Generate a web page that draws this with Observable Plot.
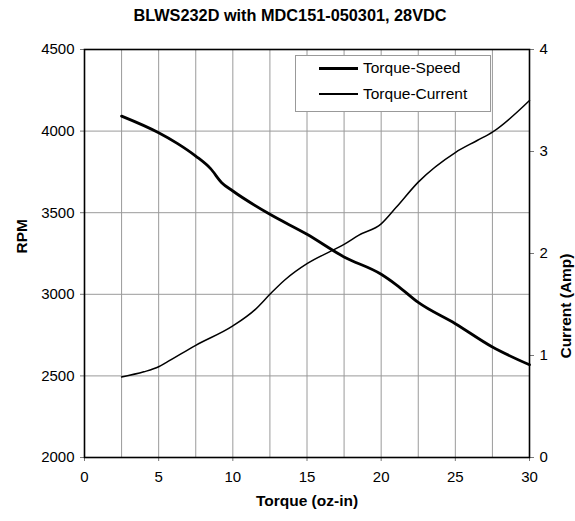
<!DOCTYPE html>
<html>
<head>
<meta charset="utf-8">
<script src="https://cdn.jsdelivr.net/npm/d3@7"></script>
<script src="https://cdn.jsdelivr.net/npm/@observablehq/plot@0.6"></script>
<style>
  body { margin: 0; background: white; font-family: "Liberation Sans", Arial, sans-serif; }
  #wrap { position: relative; width: 575px; height: 521px; }
  #title { height: 30px; line-height: 30px; text-align: center; font-weight: bold; font-size: 16.3px; padding-left: 5px; }
  #legend { position: absolute; left: 295px; top: 55px; width: 196px; height: 57px; background: white;
            border: 1px solid #999; box-sizing: border-box; font-size: 15.5px; }
  .row { position: absolute; left: 0; height: 20px; line-height: 20px; }
  .row span.sw { position: absolute; left: 23px; width: 39px; top: 10px; background: black; }
  .row span.lbl { position: absolute; left: 67px; white-space: nowrap; }
</style>
</head>
<body>
<div id="wrap">
  <div id="title"></div>
  <div id="chart"></div>
  <div id="legend"></div>
</div>
<script>
const titleText = "BLWS232D with MDC151-050301, 28VDC";
const xLabel = "Torque (oz-in)";
const yLabel = "RPM";
const y2Label = "Current (Amp)";
const seriesNames = ["Torque-Speed", "Torque-Current"];

const speedTorque = [2.5, 5, 6.25, 7.5, 8.5, 9.25, 10, 12.5, 15, 17.5, 20, 21, 22.5, 25, 27.5, 30];
const speedRpm    = [4092, 3990, 3925, 3847, 3770, 3684, 3633, 3490, 3368, 3229, 3123, 3060, 2950, 2820, 2677, 2568];

const currTorque = [2.5, 4, 5, 5.5, 7.5, 10, 11.5, 12.5, 13.5, 15, 16.7, 17.5, 18.5, 20, 21, 22.5, 25, 26.5, 27.5, 30];
const currAmp    = [0.79, 0.84, 0.89, 0.93, 1.10, 1.29, 1.45, 1.60, 1.74, 1.90, 2.03, 2.09, 2.18, 2.29, 2.45, 2.70, 2.99, 3.11, 3.19, 3.50];

const xTicks = [0, 5, 10, 15, 20, 25, 30];
const xGrid = [2.5, 5, 7.5, 10, 12.5, 15, 17.5, 20, 22.5, 25, 27.5];
const yTicks = [2000, 2500, 3000, 3500, 4000, 4500];
const yGrid = [2500, 3000, 3500, 4000];
const y2Ticks = [0, 1, 2, 3, 4];

// map current (0..4 A) onto the RPM scale (2000..4500)
const toRpm = a => 2000 + a * 625;

const speed = speedTorque.map((t, i) => ({t, v: speedRpm[i]}));
const current = currTorque.map((t, i) => ({t, v: currAmp[i]}));

document.getElementById("title").textContent = titleText;

const chart = Plot.plot({
  width: 575,
  height: 491,
  marginTop: 19,
  marginBottom: 64,
  marginLeft: 84,
  marginRight: 46,
  style: {fontFamily: "'Liberation Sans', Arial, sans-serif", fontSize: "15px", color: "black", background: "white", overflow: "visible"},
  x: {domain: [0, 30]},
  y: {domain: [2000, 4500]},
  marks: [
    Plot.gridX(xGrid, {stroke: "#9a9a9a", strokeOpacity: 1, strokeWidth: 1}),
    Plot.gridY(yGrid, {stroke: "#9a9a9a", strokeOpacity: 1, strokeWidth: 1}),
    Plot.axisX(xTicks, {tickSize: 4, tickPadding: 10, label: null, stroke: "#777", fontSize: 15}),
    Plot.axisY(yTicks, {tickSize: 4, tickPadding: 6, label: null, stroke: "#777", fontSize: 15, tickFormat: d => String(d)}),
    Plot.axisY(y2Ticks.map(toRpm), {anchor: "right", tickSize: 4, tickPadding: 6, label: null, stroke: "#777", fontSize: 15,
      tickFormat: d => String(Math.round((d - 2000) / 625))}),
    Plot.frame({stroke: "black", strokeWidth: 1.6}),
    Plot.line(speed, {x: "t", y: "v", stroke: "black", strokeWidth: 2.8, curve: "monotone-x"}),
    Plot.line(current, {x: "t", y: d => toRpm(d.v), stroke: "black", strokeWidth: 1.5, curve: "monotone-x"}),
    Plot.text([xLabel], {frameAnchor: "bottom", dy: 48, fontWeight: "bold", fontSize: 15.5}),
    Plot.text([yLabel], {frameAnchor: "left", dx: -62, rotate: -90, fontWeight: "bold", fontSize: 15.5}),
    Plot.text([y2Label], {frameAnchor: "right", dx: 37, rotate: -90, fontWeight: "bold", fontSize: 15.5})
  ]
});
document.getElementById("chart").appendChild(chart);

const legend = document.getElementById("legend");
const widths = [3, 1.5];
const tops = [2, 28];
seriesNames.forEach((name, i) => {
  const row = document.createElement("div");
  row.className = "row";
  row.style.top = tops[i] + "px";
  const sw = document.createElement("span");
  sw.className = "sw";
  sw.style.height = widths[i] + "px";
  sw.style.marginTop = (-widths[i] / 2) + "px";
  const lbl = document.createElement("span");
  lbl.className = "lbl";
  lbl.textContent = name;
  row.appendChild(sw);
  row.appendChild(lbl);
  legend.appendChild(row);
});
</script>
</body>
</html>
